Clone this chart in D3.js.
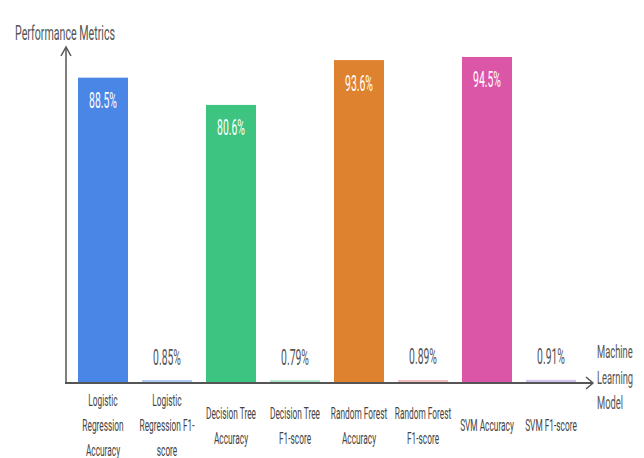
<!DOCTYPE html>
<html>
<head>
<meta charset="utf-8">
<script src="https://cdn.jsdelivr.net/npm/d3@7"></script>
<style>
  body { margin: 0; background: #fff; }
  text { font-family: Roboto, "Noto Sans", sans-serif; }
</style>
</head>
<body>
<svg width="644" height="458"></svg>
<script>
var models = ["Logistic Regression Accuracy", "Logistic Regression F1-score",
              "Decision Tree Accuracy", "Decision Tree F1-score",
              "Random Forest Accuracy", "Random Forest F1-score",
              "SVM Accuracy", "SVM F1-score"];
var scores = [88.5, 0.85, 80.6, 0.79, 93.6, 0.89, 94.5, 0.91];
var tickLines = [["Logistic", "Regression", "Accuracy"], ["Logistic", "Regression F1-", "score"],
                 ["Decision Tree", "Accuracy"], ["Decision Tree", "F1-score"],
                 ["Random Forest", "Accuracy"], ["Random Forest", "F1-score"],
                 ["SVM Accuracy"], ["SVM F1-score"]];
var barColours = ["#4a86e6", "#4a86e6", "#3cc480", "#3cc480", "#df822f", "#e06a70", "#dc56a8", "#9a7ad0"];

var svg = d3.select("svg"),
    squeeze = 0.52,
    base = 383;

var x = d3.scaleBand().domain(models).range([71, 583]).paddingInner(0.21875).paddingOuter(0.109375),
    y = d3.scaleLinear().domain([0, 100]).range([base, 38]);

// bars
svg.selectAll(".bar")
    .data(models)
  .enter().append("rect")
    .attr("class", "bar")
    .attr("x", function(d) { return x(d); })
    .attr("width", x.bandwidth())
    .attr("y", function(d, i) { return y(scores[i]); })
    .attr("height", function(d, i) { return base - y(scores[i]); })
    .attr("fill", function(d, i) { return barColours[i]; })
    .attr("fill-opacity", function(d, i) { return scores[i] > 10 ? 1 : 0.45; });

// value labels
svg.selectAll(".val")
    .data(models)
  .enter().append("text")
    .attr("class", "val")
    .attr("text-anchor", "middle")
    .attr("font-size", 20)
    .attr("fill", function(d, i) { return scores[i] > 10 ? "#fff" : "#555"; })
    .attr("transform", function(d, i) {
      var cy = scores[i] > 10 ? y(scores[i]) + 23 : y(scores[i]) - 23;
      return "translate(" + (x(d) + x.bandwidth() / 2) + "," + (cy + 7.5) + ") scale(" + squeeze + ",1.1)";
    })
    .text(function(d, i) { return scores[i] + "%"; });

// x axis ticks (labels only)
var xAxis = svg.append("g")
    .attr("transform", "translate(0," + base + ")")
    .call(d3.axisBottom(x).tickSize(0).tickFormat(""));
xAxis.select(".domain").remove();

xAxis.selectAll(".tick").each(function(d, i) {
  var lines = tickLines[i];
  var t = d3.select(this).select("text")
      .attr("y", 0).attr("dy", null)
      .attr("font-size", 16)
      .attr("font-family", "Roboto, sans-serif")
      .attr("fill", "#444")
      .attr("transform", "translate(0," + (42 - (lines.length - 1) * 12.5 + 6) + ") scale(" + squeeze + ",1.05)");
  lines.forEach(function(l, j) {
    t.append("tspan").attr("x", 0).attr("y", j * 24).text(l);
  });
});

// axis lines with arrows
var axisColour = "#555";
svg.append("line").attr("x1", 66).attr("y1", base).attr("x2", 66).attr("y2", 47)
    .attr("stroke", axisColour).attr("stroke-width", 1.5);
svg.append("path").attr("d", "M61,56L66,47L71,56").attr("fill", "none")
    .attr("stroke", axisColour).attr("stroke-width", 1.5);
svg.append("line").attr("x1", 65).attr("y1", base).attr("x2", 593).attr("y2", base)
    .attr("stroke", axisColour).attr("stroke-width", 2);
svg.append("path").attr("d", "M586,377L593,383L586,389").attr("fill", "none")
    .attr("stroke", axisColour).attr("stroke-width", 1.5);

// axis titles
svg.append("text")
    .attr("transform", "translate(15,40) scale(" + squeeze + ",1)")
    .attr("font-size", 20.5)
    .attr("fill", "#555")
    .text("Performance Metrics");

var xTitle = svg.append("text")
    .attr("transform", "translate(597,358) scale(" + squeeze + ",1.05)")
    .attr("font-size", 18)
    .attr("fill", "#555");
["Machine", "Learning", "Model"].forEach(function(l, j) {
  xTitle.append("tspan").attr("x", 0).attr("y", j * 24.5).text(l);
});
</script>
</body>
</html>
